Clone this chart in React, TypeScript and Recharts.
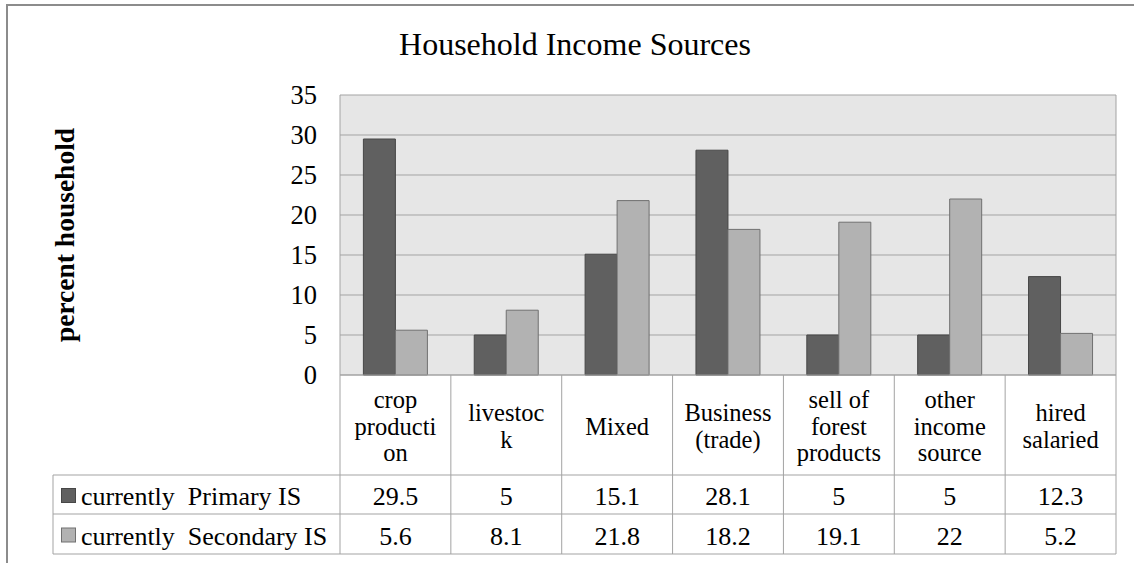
import { BarChart, Bar, XAxis, YAxis, CartesianGrid } from 'recharts';

// data
const categories = ['crop production', 'livestock', 'Mixed', 'Business (trade)', 'sell of forest products', 'other income source', 'hired salaried'];
const headerLines = [['crop', 'producti', 'on'], ['livestoc', 'k'], ['Mixed'], ['Business', '(trade)'], ['sell of', 'forest', 'products'], ['other', 'income', 'source'], ['hired', 'salaried']];
const primary = [29.5, 5, 15.1, 28.1, 5, 5, 12.3];
const secondary = [5.6, 8.1, 21.8, 18.2, 19.1, 22, 5.2];
const seriesNames = ['currently  Primary IS', 'currently  Secondary IS'];
const yTicks = [0, 5, 10, 15, 20, 25, 30, 35];

const data = categories.map((name, i) => ({ name, primary: primary[i], secondary: secondary[i] }));

const W = 1134;
const H = 563;
const PLOT_L = 340;
const PLOT_R = 1116;
const PLOT_T = 95;
const PLOT_B = 375;
const ROW1 = 475;
const ROW2 = 514;
const TABLE_B = 554;
const LEGEND_L = 53;
const FONT = "'Liberation Serif', 'Times New Roman', 'DejaVu Serif', serif";
const LINE = '#a3a3a3';
const DARK = '#606060';
const LIGHT = '#b2b2b2';
const FS = 26;
const txt = { fontFamily: FONT };

function ColumnTick(props: any) {
  const { x, payload } = props;
  const i = payload.index ?? props.index;
  const band = (PLOT_R - PLOT_L) / categories.length;
  const lines = headerLines[i];
  const mid = (PLOT_B + ROW1) / 2 + 1;
  const lh = 26.5;
  return (
    <g>
      <line x1={x + band / 2} x2={x + band / 2} y1={PLOT_B} y2={TABLE_B} stroke={LINE} />
      {lines.map((t, k) => (
        <text key={k} x={x} y={mid + (k - (lines.length - 1) / 2) * lh} textAnchor="middle" dominantBaseline="central" fontSize={24.5} style={txt} fill="#000">
          {t}
        </text>
      ))}
      <text x={x} y={(ROW1 + ROW2) / 2 + 2} textAnchor="middle" dominantBaseline="central" fontSize={FS} style={txt} fill="#000">
        {primary[i]}
      </text>
      <text x={x} y={(ROW2 + TABLE_B) / 2 + 2} textAnchor="middle" dominantBaseline="central" fontSize={FS} style={txt} fill="#000">
        {secondary[i]}
      </text>
    </g>
  );
}

export default function App() {
  const legendRows = [
    { name: seriesNames[0], color: DARK, stroke: '#474747', y: (ROW1 + ROW2) / 2 },
    { name: seriesNames[1], color: LIGHT, stroke: '#707070', y: (ROW2 + TABLE_B) / 2 },
  ];
  return (
    <div style={{ position: 'absolute', left: 0, top: 0, width: W, height: H, background: '#fff', fontFamily: FONT }}>
      <BarChart width={W} height={H} data={data} margin={{ top: PLOT_T, right: W - PLOT_R, bottom: 0, left: 0 }} barCategoryGap="21.1%" barGap={0}>
        <CartesianGrid stroke={LINE} fill="#e6e6e6" verticalPoints={[PLOT_L, PLOT_R]} />
        <YAxis
          width={PLOT_L}
          domain={[0, 35]}
          ticks={yTicks}
          interval={0}
          axisLine={false}
          tickLine={false}
          tickSize={0}
          tickMargin={23}
          tick={{ fontSize: 26.5, fill: '#000', style: txt }}
        />
        <XAxis dataKey="name" height={H - PLOT_B} interval={0} axisLine={{ stroke: LINE }} tickLine={false} tickSize={0} tick={<ColumnTick />} />
        <Bar dataKey="primary" fill={DARK} stroke="#474747" strokeWidth={1} isAnimationActive={false} />
        <Bar dataKey="secondary" fill={LIGHT} stroke="#707070" strokeWidth={1} isAnimationActive={false} />
      </BarChart>
      <svg width={W} height={H} style={{ position: 'absolute', left: 0, top: 0, pointerEvents: 'none' }}>
        <rect x={7} y={5} width={W + 50} height={H + 50} fill="none" stroke="#8c8c8c" strokeWidth={2} />
        <text x={575} y={55} textAnchor="middle" fontSize={32} style={txt} fill="#000">
          Household Income Sources
        </text>
        <text transform="translate(64,235) rotate(-90)" textAnchor="middle" dominantBaseline="central" fontSize={27.5} fontWeight="bold" style={txt} fill="#000">
          percent household
        </text>
        <line x1={PLOT_L} x2={PLOT_L} y1={PLOT_B} y2={TABLE_B} stroke={LINE} />
        <line x1={LEGEND_L} x2={PLOT_R} y1={ROW1} y2={ROW1} stroke={LINE} />
        <line x1={LEGEND_L} x2={PLOT_R} y1={ROW2} y2={ROW2} stroke={LINE} />
        <line x1={LEGEND_L} x2={PLOT_R} y1={TABLE_B} y2={TABLE_B} stroke={LINE} />
        <line x1={LEGEND_L} x2={LEGEND_L} y1={ROW1} y2={TABLE_B} stroke={LINE} />
        {legendRows.map((r) => (
          <g key={r.name}>
            <rect x={61.5} y={r.y - 6} width={14} height={14} fill={r.color} stroke={r.stroke} />
            <text x={81} y={r.y + 2} dominantBaseline="central" fontSize={FS} fill="#000" style={{ ...txt, whiteSpace: 'pre' }}>
              {r.name}
            </text>
          </g>
        ))}
      </svg>
    </div>
  );
}
